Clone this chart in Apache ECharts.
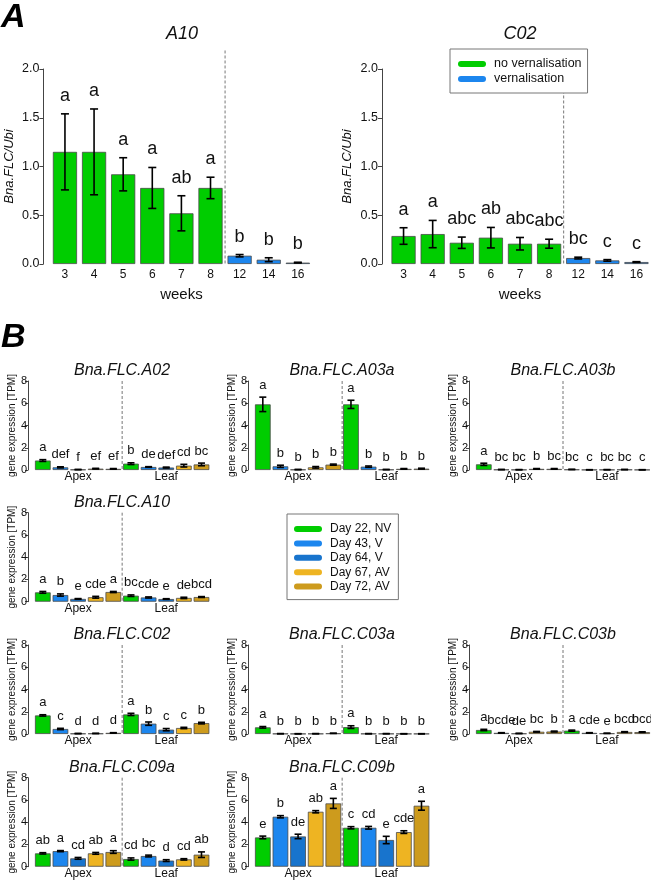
<!DOCTYPE html>
<html>
<head>
<meta charset="utf-8">
<script src="https://cdn.jsdelivr.net/npm/echarts@6/dist/echarts.min.js"></script>
<style>
  html, body { margin: 0; padding: 0; background: #fff; }
  #chart { width: 651px; height: 880px; }
</style>
</head>
<body>
<div id="chart"></div>
<script>
// ---- Panel A data (Bna.FLC/Ubi by weeks) ----
var weeks = ['3', '4', '5', '6', '7', '8', '12', '14', '16'];
var weekVern = [0, 0, 0, 0, 0, 0, 1, 1, 1];
var a10Mean = [1.15, 1.15, 0.92, 0.78, 0.52, 0.78, 0.085, 0.044, 0.014];
var a10Err = [0.39, 0.44, 0.17, 0.21, 0.18, 0.11, 0.012, 0.02, 0.004];
var a10Letters = ['a', 'a', 'a', 'a', 'ab', 'a', 'b', 'b', 'b'];
var c02Mean = [0.287, 0.307, 0.218, 0.27, 0.208, 0.208, 0.061, 0.037, 0.02];
var c02Err = [0.085, 0.14, 0.058, 0.105, 0.064, 0.046, 0.009, 0.008, 0.004];
var c02Letters = ['a', 'a', 'abc', 'ab', 'abc', 'abc', 'bc', 'c', 'c'];
var vernNames = ['no vernalisation', 'vernalisation'];
var vernColors = ['#00CD00', '#1C86EE'];

// ---- Panel B data (gene expression [TPM]) ----
var samples = ['Apex D22', 'Apex D43', 'Apex D64', 'Apex D67', 'Apex D72',
               'Leaf D22', 'Leaf D43', 'Leaf D64', 'Leaf D67', 'Leaf D72'];
var tissueLabels = ['', '', 'Apex', '', '', '', '', 'Leaf', '', ''];
var sampleDay = [0, 1, 2, 3, 4, 0, 1, 2, 3, 4];
var dayNames = ['Day 22, NV', 'Day 43, V', 'Day 64, V', 'Day 67, AV', 'Day 72, AV'];
var dayColors = ['#00CD00', '#1C86EE', '#1874CD', '#EEB422', '#CD9B1D'];

var a02Mean = [0.85, 0.24, 0.04, 0.12, 0.1, 0.57, 0.27, 0.22, 0.39, 0.5];
var a02Err = [0.08, 0.05, 0.01, 0.03, 0.03, 0.08, 0.03, 0.04, 0.12, 0.12];
var a02Letters = ['a', 'def', 'f', 'ef', 'ef', 'b', 'de', 'def', 'cd', 'bc'];
var a03aMean = [5.9, 0.33, 0.04, 0.24, 0.48, 5.9, 0.3, 0.04, 0.1, 0.12];
var a03aErr = [0.65, 0.1, 0.01, 0.07, 0.05, 0.37, 0.06, 0.01, 0.03, 0.04];
var a03aLetters = ['a', 'b', 'b', 'b', 'b', 'a', 'b', 'b', 'b', 'b'];
var a03bMean = [0.51, 0.04, 0.03, 0.1, 0.1, 0.05, 0.02, 0.03, 0.04, 0.02];
var a03bErr = [0.1, 0.01, 0.01, 0.03, 0.03, 0.01, 0.01, 0.01, 0.01, 0.01];
var a03bLetters = ['a', 'bc', 'bc', 'b', 'bc', 'bc', 'c', 'bc', 'bc', 'c'];
var a10bMean = [0.84, 0.6, 0.25, 0.4, 0.87, 0.54, 0.38, 0.24, 0.34, 0.42];
var a10bErr = [0.08, 0.1, 0.03, 0.08, 0.05, 0.07, 0.05, 0.03, 0.06, 0.04];
var a10bLetters = ['a', 'b', 'e', 'cde', 'a', 'bc', 'cde', 'e', 'de', 'bcd'];
var c02bMean = [1.67, 0.45, 0.04, 0.05, 0.1, 1.76, 0.93, 0.39, 0.54, 0.98];
var c02bErr = [0.06, 0.06, 0.01, 0.01, 0.02, 0.1, 0.15, 0.1, 0.06, 0.07];
var c02bLetters = ['a', 'c', 'd', 'd', 'd', 'a', 'b', 'c', 'c', 'b'];
var c03aMean = [0.6, 0.03, 0.02, 0.03, 0.06, 0.62, 0.03, 0.03, 0.02, 0.02];
var c03aErr = [0.07, 0.01, 0.01, 0.01, 0.01, 0.12, 0.01, 0.01, 0.01, 0.01];
var c03aLetters = ['a', 'b', 'b', 'b', 'b', 'a', 'b', 'b', 'b', 'b'];
var c03bMean = [0.36, 0.1, 0.05, 0.2, 0.22, 0.3, 0.1, 0.06, 0.18, 0.17];
var c03bErr = [0.06, 0.02, 0.01, 0.03, 0.04, 0.05, 0.02, 0.01, 0.03, 0.03];
var c03bLetters = ['a', 'bcde', 'de', 'bc', 'b', 'a', 'cde', 'e', 'bcd', 'bcd'];
var c09aMean = [1.2, 1.4, 0.75, 1.2, 1.32, 0.69, 0.96, 0.55, 0.66, 1.08];
var c09aErr = [0.06, 0.05, 0.08, 0.08, 0.12, 0.1, 0.08, 0.08, 0.06, 0.25];
var c09aLetters = ['ab', 'a', 'cd', 'ab', 'a', 'cd', 'bc', 'd', 'cd', 'ab'];
var c09bMean = [2.63, 4.49, 2.72, 4.94, 5.69, 3.5, 3.5, 2.4, 3.11, 5.48];
var c09bErr = [0.12, 0.1, 0.2, 0.1, 0.45, 0.1, 0.12, 0.33, 0.12, 0.4];
var c09bLetters = ['e', 'b', 'de', 'ab', 'a', 'c', 'cd', 'e', 'cde', 'a'];

var FONT = '"Liberation Sans", Arial, sans-serif';
var INK = '#111';
var AXIS = '#444';

var chart = echarts.init(document.getElementById('chart'), null, { renderer: 'canvas' });

var grids = [], xAxes = [], yAxes = [], series = [], titles = [];

function errSeries(gi, means, errs, letters, cap, lift, fontSize) {
  return {
    type: 'custom', xAxisIndex: gi, yAxisIndex: gi, z: 5, silent: true,
    data: means.map(function(m, i) { return [i, Math.max(0, m - errs[i]), m + errs[i]]; }),
    renderItem: function(params, api) {
      var lo = api.coord([api.value(0), api.value(1)]);
      var hi = api.coord([api.value(0), api.value(2)]);
      var x = lo[0];
      var st = { stroke: '#000', lineWidth: 1.6 };
      return {
        type: 'group',
        children: [
          { type: 'line', shape: { x1: x, y1: lo[1], x2: x, y2: hi[1] }, style: st },
          { type: 'line', shape: { x1: x - cap / 2, y1: lo[1], x2: x + cap / 2, y2: lo[1] }, style: st },
          { type: 'line', shape: { x1: x - cap / 2, y1: hi[1], x2: x + cap / 2, y2: hi[1] }, style: st },
          { type: 'text', x: x, y: hi[1] - lift, style: {
              text: letters[params.dataIndex], fill: INK, fontSize: fontSize, fontFamily: FONT,
              align: 'center', verticalAlign: 'middle' } }
        ]
      };
    }
  };
}

function sepSeries(gi, after, topVal) {
  return {
    type: 'custom', xAxisIndex: gi, yAxisIndex: gi, z: 3, silent: true, clip: false,
    data: [[after]],
    renderItem: function(params, api) {
      var a = api.coord([after - 1, 0]), b = api.coord([after, 0]);
      var t = api.coord([after, topVal]);
      var x = (a[0] + b[0]) / 2;
      return { type: 'line', shape: { x1: x, y1: t[1], x2: x, y2: a[1] },
               style: { stroke: '#777', lineWidth: 1, lineDash: [3, 2] } };
    }
  };
}

// ---- Panel A ----
var panelsA = [
  { name: 'A10', mean: a10Mean, err: a10Err, letters: a10Letters, left: 50.4, title: 182 },
  { name: 'C02', mean: c02Mean, err: c02Err, letters: c02Letters, left: 389, title: 520 }
];
panelsA.forEach(function(p) {
  var gi = grids.length;
  grids.push({ left: p.left, top: 69, width: 262, height: 195 });
  xAxes.push({
    type: 'category', gridIndex: gi, data: weeks,
    axisLine: { show: false }, axisTick: { show: false },
    axisLabel: { color: INK, fontSize: 12, fontFamily: FONT, margin: 5, interval: 0 },
    name: 'weeks', nameLocation: 'middle', nameGap: 23,
    nameTextStyle: { color: INK, fontSize: 15, fontFamily: FONT }
  });
  yAxes.push({
    type: 'value', gridIndex: gi, min: 0, max: 2, interval: 0.5, offset: 7,
    axisLine: { show: true, lineStyle: { color: AXIS, width: 1 } },
    axisTick: { show: true, length: 4, lineStyle: { color: AXIS } },
    axisLabel: { color: INK, fontSize: 12.5, fontFamily: FONT, margin: 4,
                 formatter: function(v) { return v.toFixed(1); } },
    splitLine: { show: false },
    name: 'Bna.FLC/Ubi', nameLocation: 'middle', nameGap: 28,
    nameTextStyle: { color: INK, fontSize: 13, fontStyle: 'italic', fontFamily: FONT }
  });
  series.push({
    type: 'bar', xAxisIndex: gi, yAxisIndex: gi, barCategoryGap: '17%', silent: true,
    itemStyle: { borderColor: '#4a4a4a', borderWidth: 0.8 },
    data: p.mean.map(function(v, i) { return { value: v, itemStyle: { color: vernColors[weekVern[i]] } }; })
  });
  series.push(errSeries(gi, p.mean, p.err, p.letters, 8, 18, 18));
  series.push(sepSeries(gi, 6, 2.19));
  titles.push({ text: p.name, left: p.title, top: 25, textAlign: 'center', padding: 0,
    textStyle: { fontSize: 18, fontWeight: 'normal', fontStyle: 'italic', color: INK, fontFamily: FONT } });
});

// ---- Panel B ----
var colLeft = [34, 254, 475];
var rowTop = [381, 512.7, 645, 777.7];
var panelsB = [
  { gene: 'Bna.FLC.A02', mean: a02Mean, err: a02Err, letters: a02Letters, col: 0, row: 0 },
  { gene: 'Bna.FLC.A03a', mean: a03aMean, err: a03aErr, letters: a03aLetters, col: 1, row: 0 },
  { gene: 'Bna.FLC.A03b', mean: a03bMean, err: a03bErr, letters: a03bLetters, col: 2, row: 0 },
  { gene: 'Bna.FLC.A10', mean: a10bMean, err: a10bErr, letters: a10bLetters, col: 0, row: 1 },
  { gene: 'Bna.FLC.C02', mean: c02bMean, err: c02bErr, letters: c02bLetters, col: 0, row: 2 },
  { gene: 'Bna.FLC.C03a', mean: c03aMean, err: c03aErr, letters: c03aLetters, col: 1, row: 2 },
  { gene: 'Bna.FLC.C03b', mean: c03bMean, err: c03bErr, letters: c03bLetters, col: 2, row: 2 },
  { gene: 'Bna.FLC.C09a', mean: c09aMean, err: c09aErr, letters: c09aLetters, col: 0, row: 3 },
  { gene: 'Bna.FLC.C09b', mean: c09bMean, err: c09bErr, letters: c09bLetters, col: 1, row: 3 }
];
panelsB.forEach(function(p) {
  var gi = grids.length;
  var left = colLeft[p.col], top = rowTop[p.row];
  grids.push({ left: left, top: top, width: 176.3, height: 89 });
  xAxes.push({
    type: 'category', gridIndex: gi, data: samples,
    axisLine: { show: false }, axisTick: { show: false },
    axisLabel: { color: INK, fontSize: 12, fontFamily: FONT, margin: 1, interval: 0,
                 formatter: function(v, i) { return tissueLabels[i]; } }
  });
  yAxes.push({
    type: 'value', gridIndex: gi, min: 0, max: 8, interval: 2, offset: 6,
    axisLine: { show: true, lineStyle: { color: AXIS, width: 1 } },
    axisTick: { show: true, length: 3, lineStyle: { color: AXIS } },
    axisLabel: { color: INK, fontSize: 11, fontFamily: FONT, margin: 1 },
    splitLine: { show: false },
    name: 'gene expression [TPM]', nameLocation: 'middle', nameGap: 9,
    nameTextStyle: { color: INK, fontSize: 10, fontFamily: FONT }
  });
  series.push({
    type: 'bar', xAxisIndex: gi, yAxisIndex: gi, barCategoryGap: '11%', silent: true,
    itemStyle: { borderColor: '#4a4a4a', borderWidth: 0.8 },
    data: p.mean.map(function(v, i) { return { value: v, itemStyle: { color: dayColors[sampleDay[i]] } }; })
  });
  series.push(errSeries(gi, p.mean, p.err, p.letters, 7, 12, 13));
  series.push(sepSeries(gi, 5, 8));
  titles.push({ text: p.gene, left: left + 88, top: top - 18, textAlign: 'center', padding: 0,
    textStyle: { fontSize: 16, fontWeight: 'normal', fontStyle: 'italic', color: INK, fontFamily: FONT } });
});

// panel letters
titles.push({ text: 'A', left: 1, top: 1, padding: 0,
  textStyle: { fontSize: 34, fontWeight: 'bold', fontStyle: 'italic', color: '#000', fontFamily: FONT } });
titles.push({ text: 'B', left: 1, top: 321, padding: 0,
  textStyle: { fontSize: 34, fontWeight: 'bold', fontStyle: 'italic', color: '#000', fontFamily: FONT } });

// legend-only series
var pill = 'path://M3,0 L25,0 A3,3 0 0 1 25,6 L3,6 A3,3 0 0 1 3,0 Z';
vernNames.forEach(function(n, i) {
  series.push({ type: 'line', name: n, xAxisIndex: 0, yAxisIndex: 0, data: [], color: vernColors[i] });
});
dayNames.forEach(function(n, i) {
  series.push({ type: 'line', name: n, xAxisIndex: 2, yAxisIndex: 2, data: [], color: dayColors[i] });
});

var legendBox = {
  orient: 'vertical', selectedMode: false, icon: pill, itemWidth: 28, itemHeight: 7,
  backgroundColor: '#fff', borderColor: '#777', borderWidth: 1, borderRadius: 0, z: 10,
  textStyle: { color: INK, fontSize: 12, fontFamily: FONT, lineHeight: 14, padding: [0, 0, 0, 3] }
};

chart.setOption({
  animation: false,
  backgroundColor: '#fff',
  title: titles,
  legend: [
    Object.assign({}, legendBox, { data: vernNames, left: 450, top: 49, padding: [8, 6, 7, 8], itemGap: 1,
      textStyle: { color: INK, fontSize: 12.5, fontFamily: FONT, lineHeight: 14, padding: [0, 0, 0, 3] } }),
    Object.assign({}, legendBox, { data: dayNames, left: 287, top: 514, padding: [8, 7, 6, 7], itemGap: 0.4 })
  ],
  grid: grids,
  xAxis: xAxes,
  yAxis: yAxes,
  series: series
});

window.addEventListener('resize', function() { chart.resize(); });
</script>
</body>
</html>
